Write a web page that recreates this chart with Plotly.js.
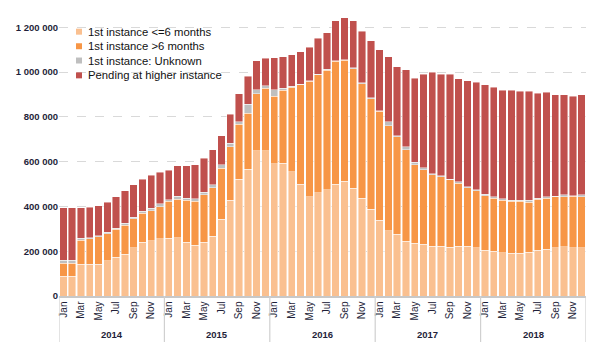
<!DOCTYPE html>
<html>
<head>
<meta charset="utf-8">
<script src="https://cdn.plot.ly/plotly-3.0.1.min.js"></script>
<style>
html,body{margin:0;padding:0;background:#fff;}
#chart{width:602px;height:342px;}
</style>
</head>
<body>
<div id="chart"></div>
<script>
const years = ["2014","2015","2016","2017","2018"];
const monthNames = ["Jan","Feb","Mar","Apr","May","Jun","Jul","Aug","Sep","Oct","Nov","Dec"];

const le6 = [88,88,142,142,142,157,173,187,215,240,246,255,
  257,261,240,227,239,267,343,428,522,566,648,648,
  590,593,554,498,442,460,475,500,513,482,437,388,
  339,291,276,245,236,231,222,222,218,222,222,215,
  204,200,193,190,190,196,204,209,215,221,216,215].map(v=>v*1000);
const gt6 = [58,58,107,113,122,122,124,128,130,129,135,143,
  165,172,188,197,213,217,227,238,245,249,256,279,
  301,325,377,445,516,527,532,548,539,533,511,493,
  485,470,436,409,349,333,320,311,301,282,262,254,
  244,237,235,234,234,223,229,228,227,222,229,228].map(v=>v*1000);
const unknown = [14,14,8,6,5,6,6,9,7,9,10,14,
  8,13,9,10,12,13,17,15,12,40,17,12,
  30,10,5,3,3,4,5,3,3,3,3,3,
  4,17,4,12,13,8,3,4,3,5,3,6,
  6,5,6,4,4,8,4,5,4,8,3,8].map(v=>v*1000);
const pending = [234,234,137,136,135,134,139,145,144,143,148,140,
  131,136,145,153,152,155,129,131,124,126,130,122,
  143,141,142,145,149,160,163,177,187,210,230,255,
  272,291,308,343,375,419,455,454,469,460,474,479,
  488,489,485,491,485,486,469,467,452,447,443,447].map(v=>v*1000);

const categories = [];
years.forEach(y => monthNames.forEach(m => categories.push(m + " " + y)));
const tickCats = categories.filter((c, i) => i % 2 === 0);
const tickText = tickCats.map(c => c.split(" ")[0]);

const names = ["1st instance <=6 months","1st instance >6 months","1st instance: Unknown","Pending at higher instance"];
const colors = ["#FAC090","#F79646","#BFBFBF","#C0504D"];
const series = [le6, gt6, unknown, pending];

const traces = series.map((vals, k) => ({
  type: "bar",
  name: names[k],
  x: categories,
  y: vals,
  marker: {color: colors[k], line: {color: "rgba(255,255,255,0.55)", width: 0.8}},
  hoverinfo: "x+y+name"
}));

const font = "Liberation Sans, Arial, sans-serif";
const dark = "#1f1f3a";

const shapes = [];
for (let k = 0; k <= years.length; k++) {
  shapes.push({type: "line", xref: "x", yref: "paper", x0: k*12 - 0.5, x1: k*12 - 0.5, y0: 0, y1: -0.17,
    line: {color: "#d0d0d0", width: 1.2}});
}
const annotations = years.map((y, k) => ({
  text: "<b>" + y + "</b>", xref: "x", yref: "paper", x: k*12 + 5.5, y: -0.137,
  showarrow: false, xanchor: "center", yanchor: "middle",
  font: {family: font, size: 9.5, color: dark}
}));

// legend drawn manually (compact spacing like the reference)
const legendY = [0.944, 0.892, 0.841, 0.788];
names.forEach((n, k) => {
  shapes.push({type: "rect", xref: "paper", yref: "paper",
    x0: 0.0323, x1: 0.0436, y0: legendY[k] - 0.0107, y1: legendY[k] + 0.0107,
    fillcolor: colors[k], line: {width: 0}});
  annotations.push({text: n, xref: "paper", yref: "paper", x: 0.0512, y: legendY[k],
    xanchor: "left", yanchor: "middle", showarrow: false,
    font: {family: font, size: 11.3, color: "#111111"}});
});

const layout = {
  width: 602, height: 342,
  margin: {l: 59, r: 16, t: 16, b: 46},
  paper_bgcolor: "#ffffff", plot_bgcolor: "#ffffff",
  barmode: "stack",
  bargap: 0.16,
  separators: ". ",
  showlegend: false,
  xaxis: {type: "category", tickmode: "array", tickvals: tickCats, ticktext: tickText,
    tickangle: -90, tickfont: {family: font, size: 10, color: dark},
    showgrid: false, showline: true, linecolor: "#c8c8c8", linewidth: 1.5, ticks: "",
    range: [-0.5, 59.5], fixedrange: true},
  yaxis: {range: [0, 1250000], tickvals: [0,200000,400000,600000,800000,1000000,1200000],
    tickformat: ",d", tickfont: {family: font, size: 9.5, color: dark, weight: "bold"},
    showgrid: true, gridcolor: "#d9d9d9", griddash: "dash", gridwidth: 1,
    zeroline: false, showline: false, ticks: "", ticklen: 0, fixedrange: true},
  shapes: shapes,
  annotations: annotations
};

Plotly.newPlot("chart", traces, layout, {displayModeBar: false, staticPlot: true});
</script>
</body>
</html>
